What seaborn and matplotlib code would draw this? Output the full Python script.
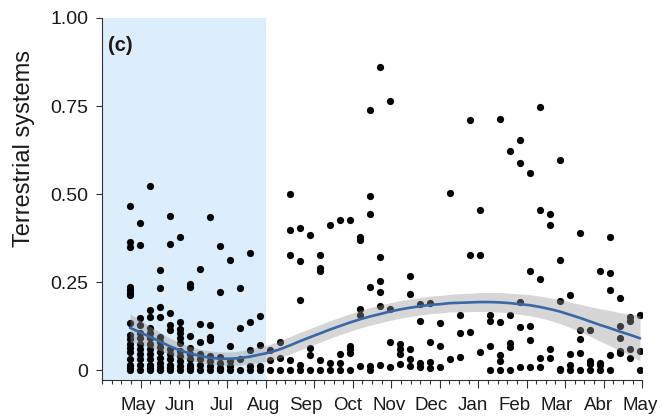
import numpy as np
import pandas as pd
import matplotlib
matplotlib.use("Agg")
import matplotlib.pyplot as plt
import seaborn as sns

# ---------------- data ----------------
weeks = list(range(1, 53))

obs_may_aug = [
    [0.467, 0.365, 0.350, 0.235, 0.228, 0.220, 0.212, 0.134, 0.10, 0.088, 0.075, 0.062, 0.05, 0.03, 0.015, 0.005, 0.0],
    [0.417, 0.355, 0.147, 0.128, 0.105, 0.09, 0.075, 0.06, 0.045, 0.03, 0.015, 0.0],
    [0.523, 0.170, 0.151, 0.118, 0.105, 0.09, 0.075, 0.06, 0.045, 0.03, 0.015, 0.005, 0.0],
    [0.284, 0.233, 0.18, 0.151, 0.095, 0.08, 0.065, 0.05, 0.035, 0.02, 0.008, 0.0],
    [0.437, 0.357, 0.161, 0.128, 0.114, 0.06, 0.045, 0.03, 0.015, 0.005, 0.0],
    [0.377, 0.135, 0.116, 0.105, 0.09, 0.077, 0.055, 0.04, 0.025, 0.01, 0.0],
    [0.243, 0.237, 0.098, 0.062, 0.045, 0.03, 0.015, 0.005, 0.0],
    [0.287, 0.131, 0.08, 0.045, 0.03, 0.015, 0.0],
    [0.435, 0.127, 0.095, 0.085, 0.04, 0.025, 0.01, 0.0],
    [0.353, 0.222, 0.038, 0.02, 0.005, 0.0],
    [0.3125, 0.069, 0.025, 0.01, 0.0],
    [0.233, 0.118, 0.03, 0.0],
    [0.333, 0.137, 0.057, 0.012, 0.0],
    [0.153, 0.07, 0.012, 0.0],
]
obs_aug_dec = [
    [0.057, 0.028, 0.0],
    [0.08, 0.033, 0.0],
    [0.501, 0.399, 0.328, 0.028, 0.0],
    [0.404, 0.31, 0.2, 0.014, 0.0],
    [0.383, 0.062, 0.043, 0.0],
    [0.326, 0.29, 0.28, 0.028, 0.0],
    [0.411, 0.019, 0.0],
    [0.426, 0.045, 0.021, 0.0],
    [0.426, 0.068, 0.059, 0.047, 0.0],
    [0.377, 0.369, 0.174, 0.155, 0.012],
    [0.739, 0.495, 0.443, 0.237, 0.012, 0.0],
    [0.861, 0.32, 0.252, 0.222, 0.183, 0.014],
    [0.764, 0.172, 0.079, 0.008],
    [0.074, 0.06, 0.045, 0.017],
    [0.267, 0.216, 0.06, 0.03, 0.011],
    [0.188, 0.139, 0.019, 0.009],
    [0.19, 0.079, 0.022, 0.005],
    [0.134, 0.067, 0.009],
]
obs_dec_may = [
    [0.502, 0.031],
    [0.155, 0.105, 0.036],
    [0.711, 0.328, 0.107],
    [0.455, 0.328, 0.05],
    [0.155, 0.14, 0.068, 0.001],
    [0.712, 0.135, 0.042, 0.026, 0.0],
    [0.621, 0.155, 0.078, 0.066, 0.0],
    [0.653, 0.587, 0.193, 0.122, 0.008],
    [0.561, 0.28, 0.124, 0.085, 0.008],
    [0.746, 0.455, 0.259, 0.035, 0.009],
    [0.442, 0.412, 0.059, 0.033],
    [0.597, 0.312, 0.195, 0.002, 0.0],
    [0.214, 0.045, 0.015, 0.0],
    [0.389, 0.114, 0.088, 0.047, 0.0],
    [0.115, 0.026, 0.017, 0.0],
    [0.28, 0.02, 0.013, 0.0],
    [0.377, 0.275, 0.228, 0.043, 0.0],
    [0.205, 0.126, 0.09, 0.055, 0.047],
    [0.15, 0.14, 0.059, 0.035],
    [0.155, 0.055, 0.0],
]

# fitted smooth and its confidence half-width
fit_mean = [0.120, 0.107, 0.094, 0.081, 0.067, 0.056, 0.047, 0.040, 0.035, 0.032,
            0.032, 0.034, 0.038, 0.044, 0.050, 0.059, 0.070, 0.082, 0.093, 0.104,
            0.115, 0.125, 0.135, 0.144, 0.152, 0.159, 0.166, 0.172, 0.177, 0.181,
            0.185, 0.187, 0.190, 0.191, 0.192, 0.193, 0.193, 0.192, 0.190, 0.187,
            0.184, 0.179, 0.173, 0.166, 0.157, 0.148, 0.138, 0.128, 0.119, 0.109,
            0.100, 0.090]
fit_halfwidth = [0.040, 0.034, 0.030, 0.026, 0.023, 0.021, 0.020, 0.019, 0.019, 0.019,
                 0.019, 0.020, 0.021, 0.022, 0.023, 0.024, 0.025, 0.025, 0.025, 0.025,
                 0.025, 0.025, 0.025, 0.025, 0.025, 0.025, 0.025, 0.025, 0.025, 0.025,
                 0.025, 0.025, 0.025, 0.026, 0.026, 0.027, 0.027, 0.028, 0.028, 0.029,
                 0.030, 0.031, 0.032, 0.034, 0.036, 0.039, 0.042, 0.046, 0.050, 0.054,
                 0.059, 0.064]

months = ["May", "Jun", "Jul", "Aug", "Sep", "Oct", "Nov", "Dec",
          "Jan", "Feb", "Mar", "Abr", "May"]
y_ticks = [0, 0.25, 0.50, 0.75, 1.00]
y_ticklabels = ["0", "0.25", "0.50", "0.75", "1.00"]

# ---------------- build tables ----------------
all_obs = obs_may_aug + obs_aug_dec + obs_dec_may
rows = [(w, v) for w, vals in zip(weeks, all_obs) for v in vals]
df = pd.DataFrame(rows, columns=["week", "value"])
fit = pd.DataFrame({"week": weeks, "mean": fit_mean, "hw": fit_halfwidth})
fit["lo"] = fit["mean"] - fit["hw"]
fit["hi"] = fit["mean"] + fit["hw"]

# ---------------- style ----------------
sns.set_theme(style="ticks")
plt.rcParams["font.family"] = ["Liberation Sans", "DejaVu Sans"]
axis_col = "#333333"
text_col = "#1a1a1a"

fig = plt.figure(figsize=(6.62, 4.19), dpi=100)
ax = fig.add_axes([102 / 662, 39 / 419, (642.3 - 102) / 662, (380 - 18) / 419])

x_left, x_right = -1.8, 52.23
ax.set_xlim(x_left, x_right)
ax.set_ylim(-0.0284, 1.0)

# summer shading
ax.axvspan(x_left, 14.6, color="#dcedfb", lw=0, zorder=0)

sns.scatterplot(data=df, x="week", y="value", ax=ax, color="black",
                s=27, linewidth=0, zorder=2, legend=False)
ax.fill_between(fit["week"], fit["lo"], fit["hi"], color="#999999",
                alpha=0.4, lw=0, zorder=3)
sns.lineplot(data=fit, x="week", y="mean", ax=ax, color="#3868a6",
             lw=1.9, zorder=4)

# axes cosmetics
for s in ["top", "right"]:
    ax.spines[s].set_visible(False)
for s in ["left", "bottom"]:
    ax.spines[s].set_color(axis_col)
    ax.spines[s].set_linewidth(0.8)

tick_step = 0.9648
minor_pos = [x_left + tick_step * k for k in range(57)]
major_idx = [4, 9, 13, 17, 22, 26, 30, 35, 39, 44, 48, 52, 56]
ax.set_xticks([minor_pos[k] for k in major_idx], labels=[""] * len(major_idx))
ax.set_xticks(minor_pos, minor=True)
ax.tick_params(axis="x", which="major", length=5.8, width=0.8, color=axis_col)
ax.tick_params(axis="x", which="minor", length=2.9, width=0.8, color=axis_col)

sec = ax.secondary_xaxis("bottom")
label_pos = [1.8 + 4.183 * i for i in range(len(months))]
sec.set_xticks(label_pos, labels=months)
sec.tick_params(length=0, pad=12.5, labelsize=13.5, colors=text_col)
sec.spines["bottom"].set_visible(False)

ax.set_yticks(y_ticks, labels=y_ticklabels)
ax.tick_params(axis="y", length=4.5, width=0.8, color=axis_col, pad=5.5,
               labelsize=14, labelcolor=text_col)

ax.set_xlabel("")
ax.set_ylabel("Terrestrial systems", fontsize=17, color=text_col)
ax.yaxis.set_label_coords(-0.124, 0.64)
ax.text(0.012, 0.925, "(c)", transform=ax.transAxes, fontsize=14.5, fontweight="bold",
        color=text_col, ha="left", va="center")

fig.savefig("out.png", dpi=100)
